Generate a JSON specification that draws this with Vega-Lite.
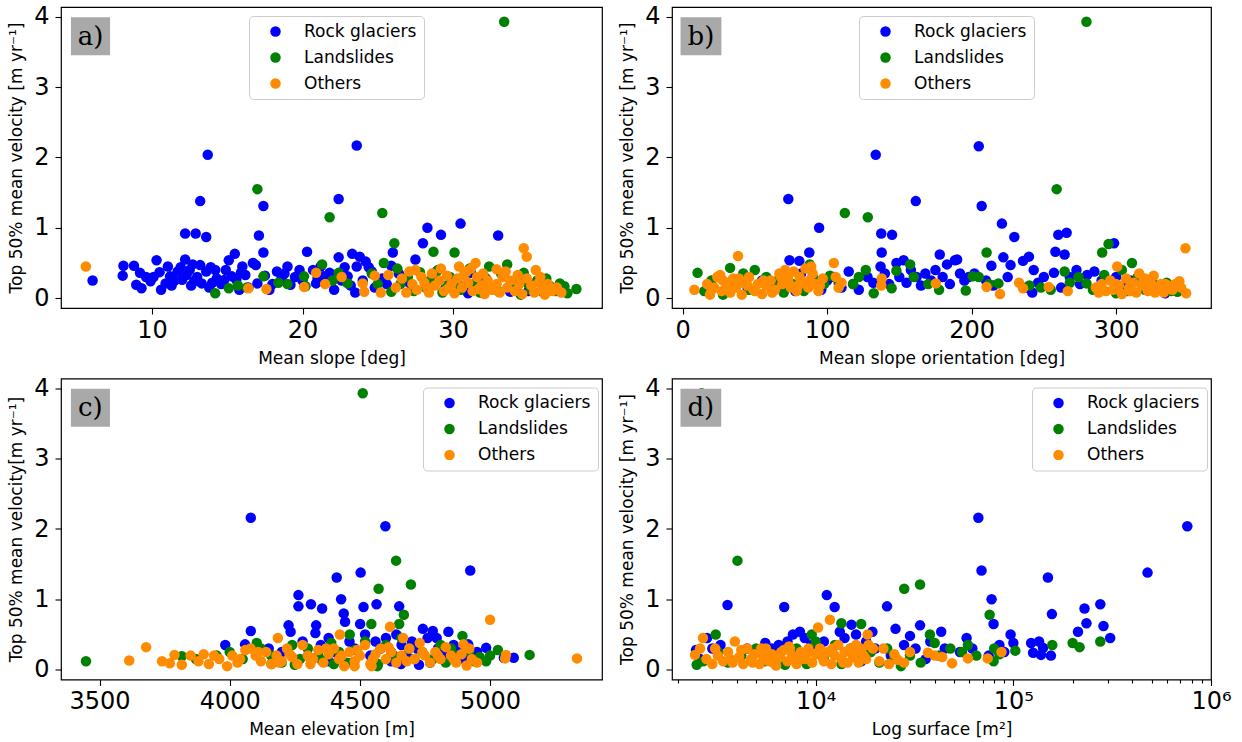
{
"$schema": "https://vega.github.io/schema/vega-lite/v6.json",
"padding": {"left": 7, "top": 4, "right": 5, "bottom": 5},
"background": "white",
"spacing": 8.5,
"resolve": {"legend": {"color": "independent"}},
"datasets": {
"a": [
{"t":"R","x":6.05,"v":0.25},{"t":"R","x":8.1,"v":0.46},{"t":"R","x":8.05,"v":0.32},{"t":"R","x":8.8,"v":0.46},{"t":"R","x":9.2,"v":0.36},{"t":"R","x":8.95,"v":0.19},{"t":"R","x":9.3,"v":0.14},{"t":"R","x":9.9,"v":0.24},{"t":"R","x":10.3,"v":0.54},{"t":"R","x":10.6,"v":0.12},{"t":"R","x":11.05,"v":0.45},{"t":"R","x":11.2,"v":0.31},{"t":"R","x":10.9,"v":0.21},{"t":"R","x":11.7,"v":0.38},{"t":"R","x":12,"v":0.26},{"t":"R","x":12.2,"v":0.92},{"t":"R","x":12.9,"v":0.92},{"t":"R","x":13.6,"v":0.87},{"t":"R","x":12.2,"v":0.55},{"t":"R","x":12.5,"v":0.4},{"t":"R","x":12.8,"v":0.24},{"t":"R","x":13.2,"v":1.38},{"t":"R","x":13.7,"v":2.04},{"t":"R","x":13.2,"v":0.47},{"t":"R","x":13.3,"v":0.21},{"t":"R","x":13.6,"v":0.38},{"t":"R","x":14.2,"v":0.4},{"t":"R","x":14.3,"v":0.28},{"t":"R","x":15.1,"v":0.54},{"t":"R","x":15.5,"v":0.63},{"t":"R","x":15.3,"v":0.31},{"t":"R","x":15.8,"v":0.12},{"t":"R","x":15.9,"v":0.36},{"t":"R","x":16.7,"v":0.5},{"t":"R","x":17.1,"v":0.89},{"t":"R","x":17.4,"v":1.31},{"t":"R","x":17.4,"v":0.65},{"t":"R","x":17,"v":0.21},{"t":"R","x":17.8,"v":0.12},{"t":"R","x":18.6,"v":0.28},{"t":"R","x":19,"v":0.45},{"t":"R","x":19.2,"v":0.19},{"t":"R","x":20.3,"v":0.66},{"t":"R","x":20.7,"v":0.4},{"t":"R","x":20.9,"v":0.21},{"t":"R","x":21.4,"v":0.31},{"t":"R","x":22.1,"v":0.12},{"t":"R","x":22.4,"v":0.58},{"t":"R","x":22.4,"v":1.41},{"t":"R","x":23.6,"v":2.17},{"t":"R","x":23.3,"v":0.63},{"t":"R","x":23.8,"v":0.59},{"t":"R","x":24.2,"v":0.52},{"t":"R","x":23.6,"v":0.45},{"t":"R","x":23.5,"v":0.08},{"t":"R","x":23,"v":0.31},{"t":"R","x":24.6,"v":0.38},{"t":"R","x":25.9,"v":0.46},{"t":"R","x":26,"v":0.65},{"t":"R","x":26.8,"v":0.24},{"t":"R","x":27.5,"v":0.55},{"t":"R","x":28,"v":0.78},{"t":"R","x":28.3,"v":1.0},{"t":"R","x":29.2,"v":0.9},{"t":"R","x":30.5,"v":1.06},{"t":"R","x":31.2,"v":0.36},{"t":"R","x":31,"v":0.07},{"t":"R","x":33,"v":0.89},{"t":"R","x":33.8,"v":0.09},
{"t":"R","x":11.5,"v":0.25},{"t":"R","x":12.3,"v":0.33},{"t":"R","x":11.9,"v":0.44},{"t":"R","x":13,"v":0.3},{"t":"R","x":14,"v":0.22},{"t":"R","x":14.6,"v":0.2},{"t":"R","x":15.6,"v":0.26},{"t":"R","x":16.2,"v":0.33},{"t":"R","x":16.4,"v":0.15},{"t":"R","x":17.5,"v":0.32},{"t":"R","x":18,"v":0.2},{"t":"R","x":18.3,"v":0.38},{"t":"R","x":19.5,"v":0.3},{"t":"R","x":21,"v":0.28},{"t":"R","x":21.8,"v":0.36},{"t":"R","x":22.6,"v":0.25},{"t":"R","x":24,"v":0.25},{"t":"R","x":24.8,"v":0.15},{"t":"R","x":25.3,"v":0.28},{"t":"R","x":26.4,"v":0.35},{"t":"R","x":27.2,"v":0.2},{"t":"R","x":28.8,"v":0.3},{"t":"R","x":29.5,"v":0.14},{"t":"R","x":30.2,"v":0.25},{"t":"R","x":32,"v":0.2},{"t":"R","x":34.2,"v":0.15},{"t":"R","x":35,"v":0.1},{"t":"R","x":9.6,"v":0.3},{"t":"R","x":10.5,"v":0.37},{"t":"R","x":12.7,"v":0.48},{"t":"R","x":13.9,"v":0.44},{"t":"R","x":14.8,"v":0.26},{"t":"R","x":16.9,"v":0.47},{"t":"R","x":20,"v":0.25},{"t":"R","x":22.8,"v":0.44},{"t":"R","x":24.4,"v":0.44},
{"t":"R","x":12.6,"v":0.18},{"t":"R","x":13.8,"v":0.15},{"t":"R","x":14.9,"v":0.4},{"t":"R","x":16,"v":0.45},{"t":"R","x":18.8,"v":0.35},{"t":"R","x":19.8,"v":0.4},{"t":"R","x":21.2,"v":0.45},{"t":"R","x":23.2,"v":0.18},{"t":"R","x":25.6,"v":0.2},{"t":"R","x":11.3,"v":0.18},{"t":"R","x":10.1,"v":0.3},
{"t":"L","x":14.2,"v":0.07},{"t":"L","x":15.1,"v":0.14},{"t":"L","x":15.7,"v":0.18},{"t":"L","x":17,"v":1.55},{"t":"L","x":17.4,"v":0.31},{"t":"L","x":19,"v":0.2},{"t":"L","x":20.1,"v":0.31},{"t":"L","x":20.2,"v":0.17},{"t":"L","x":21.3,"v":0.48},{"t":"L","x":21.8,"v":1.15},{"t":"L","x":22.4,"v":0.36},{"t":"L","x":23,"v":0.21},{"t":"L","x":25.3,"v":1.21},{"t":"L","x":26.1,"v":0.78},{"t":"L","x":25.4,"v":0.5},{"t":"L","x":25.9,"v":0.09},{"t":"L","x":28.7,"v":0.66},{"t":"L","x":30.1,"v":0.65},{"t":"L","x":33.4,"v":3.93},{"t":"L","x":33.6,"v":0.48},{"t":"L","x":32.4,"v":0.45},{"t":"L","x":34.7,"v":0.36},{"t":"L","x":37.1,"v":0.21},{"t":"L","x":38.2,"v":0.13},{"t":"L","x":37.6,"v":0.07},{"t":"L","x":34.5,"v":0.05},
{"t":"L","x":26.5,"v":0.2},{"t":"L","x":27,"v":0.3},{"t":"L","x":27.4,"v":0.1},{"t":"L","x":27.8,"v":0.37},{"t":"L","x":28.2,"v":0.15},{"t":"L","x":28.5,"v":0.25},{"t":"L","x":29,"v":0.4},{"t":"L","x":29.3,"v":0.08},{"t":"L","x":29.8,"v":0.3},{"t":"L","x":30.5,"v":0.12},{"t":"L","x":30.8,"v":0.35},{"t":"L","x":31.4,"v":0.2},{"t":"L","x":31.8,"v":0.08},{"t":"L","x":32.2,"v":0.28},{"t":"L","x":32.8,"v":0.15},{"t":"L","x":33.2,"v":0.35},{"t":"L","x":33.9,"v":0.22},{"t":"L","x":34.3,"v":0.3},{"t":"L","x":35.2,"v":0.12},{"t":"L","x":35.6,"v":0.25},{"t":"L","x":36,"v":0.08},{"t":"L","x":36.4,"v":0.18},{"t":"L","x":36.8,"v":0.1},{"t":"L","x":37.4,"v":0.17},{"t":"L","x":24.6,"v":0.35},{"t":"L","x":25,"v":0.2},{"t":"L","x":26.3,"v":0.42},{"t":"L","x":28.9,"v":0.38},{"t":"L","x":31.1,"v":0.42},{"t":"L","x":16.3,"v":0.15},{"t":"L","x":18.4,"v":0.22},{"t":"L","x":22,"v":0.25},
{"t":"L","x":29.6,"v":0.18},{"t":"L","x":30.3,"v":0.22},{"t":"L","x":33,"v":0.1},{"t":"L","x":35,"v":0.2},{"t":"L","x":36.2,"v":0.28},
{"t":"O","x":5.6,"v":0.45},{"t":"O","x":16.4,"v":0.14},{"t":"O","x":17.6,"v":0.13},{"t":"O","x":20.1,"v":0.16},{"t":"O","x":20.9,"v":0.36},{"t":"O","x":21.5,"v":0.2},{"t":"O","x":22.6,"v":0.3},{"t":"O","x":24,"v":0.21},{"t":"O","x":24.1,"v":0.09},{"t":"O","x":24.8,"v":0.32},{"t":"O","x":25.2,"v":0.08},{"t":"O","x":25.7,"v":0.33},{"t":"O","x":34.7,"v":0.71},{"t":"O","x":34.9,"v":0.59},{"t":"O","x":31.5,"v":0.5},{"t":"O","x":32.9,"v":0.41},{"t":"O","x":35.5,"v":0.4},{"t":"O","x":30.4,"v":0.45},
{"t":"O","x":26.2,"v":0.15},{"t":"O","x":26.6,"v":0.28},{"t":"O","x":26.9,"v":0.08},{"t":"O","x":27.1,"v":0.38},{"t":"O","x":27.3,"v":0.2},{"t":"O","x":27.6,"v":0.12},{"t":"O","x":27.9,"v":0.3},{"t":"O","x":28.1,"v":0.22},{"t":"O","x":28.4,"v":0.08},{"t":"O","x":28.6,"v":0.35},{"t":"O","x":28.8,"v":0.18},{"t":"O","x":29.1,"v":0.25},{"t":"O","x":29.4,"v":0.1},{"t":"O","x":29.6,"v":0.32},{"t":"O","x":29.9,"v":0.2},{"t":"O","x":30.1,"v":0.07},{"t":"O","x":30.3,"v":0.28},{"t":"O","x":30.6,"v":0.15},{"t":"O","x":30.9,"v":0.38},{"t":"O","x":31,"v":0.22},{"t":"O","x":31.3,"v":0.1},{"t":"O","x":31.6,"v":0.3},{"t":"O","x":31.9,"v":0.18},{"t":"O","x":32.1,"v":0.06},{"t":"O","x":32.3,"v":0.25},{"t":"O","x":32.6,"v":0.12},{"t":"O","x":32.9,"v":0.2},{"t":"O","x":33.1,"v":0.08},{"t":"O","x":33.3,"v":0.3},{"t":"O","x":33.6,"v":0.15},{"t":"O","x":33.8,"v":0.25},{"t":"O","x":34.1,"v":0.1},{"t":"O","x":34.4,"v":0.2},{"t":"O","x":34.6,"v":0.06},{"t":"O","x":34.9,"v":0.28},{"t":"O","x":35.2,"v":0.18},{"t":"O","x":35.4,"v":0.08},{"t":"O","x":35.7,"v":0.22},{"t":"O","x":35.9,"v":0.12},{"t":"O","x":36.1,"v":0.05},{"t":"O","x":36.3,"v":0.2},{"t":"O","x":36.6,"v":0.1},{"t":"O","x":36.9,"v":0.15},{"t":"O","x":37.2,"v":0.08},{"t":"O","x":27.5,"v":0.4},{"t":"O","x":29.2,"v":0.42},{"t":"O","x":31.2,"v":0.42},{"t":"O","x":32,"v":0.35},{"t":"O","x":33.5,"v":0.38},
{"t":"O","x":28.3,"v":0.14},{"t":"O","x":30.7,"v":0.32},{"t":"O","x":32.5,"v":0.16},{"t":"O","x":34.3,"v":0.33},{"t":"O","x":35.8,"v":0.3},{"t":"O","x":36.4,"v":0.14},{"t":"O","x":29.7,"v":0.14},{"t":"O","x":31.7,"v":0.13}
],
"b": [
{"t":"R","x":73.2,"v":1.41},{"t":"R","x":94.5,"v":1.0},{"t":"R","x":87.7,"v":0.65},{"t":"R","x":74,"v":0.54},{"t":"R","x":80.8,"v":0.53},{"t":"R","x":133.7,"v":2.04},{"t":"R","x":137.8,"v":0.65},{"t":"R","x":137.5,"v":0.92},{"t":"R","x":145,"v":0.9},{"t":"R","x":137,"v":0.45},{"t":"R","x":148,"v":0.5},{"t":"R","x":153,"v":0.54},{"t":"R","x":161.4,"v":1.38},{"t":"R","x":178,"v":0.62},{"t":"R","x":188.5,"v":0.54},{"t":"R","x":190,"v":0.55},{"t":"R","x":205,"v":2.16},{"t":"R","x":207,"v":1.31},{"t":"R","x":221,"v":1.06},{"t":"R","x":229.6,"v":0.87},{"t":"R","x":222,"v":0.58},{"t":"R","x":213.7,"v":0.46},{"t":"R","x":227,"v":0.47},{"t":"R","x":235.6,"v":0.53},{"t":"R","x":239.7,"v":0.59},{"t":"R","x":243,"v":0.4},{"t":"R","x":258,"v":0.66},{"t":"R","x":260,"v":0.9},{"t":"R","x":265.8,"v":0.93},{"t":"R","x":264.4,"v":0.62},{"t":"R","x":257,"v":0.36},{"t":"R","x":272.6,"v":0.4},{"t":"R","x":285,"v":0.38},{"t":"R","x":298.6,"v":0.78},{"t":"R","x":334,"v":0.07},
{"t":"R","x":60,"v":0.2},{"t":"R","x":65,"v":0.15},{"t":"R","x":70,"v":0.3},{"t":"R","x":78,"v":0.1},{"t":"R","x":82,"v":0.35},{"t":"R","x":86,"v":0.2},{"t":"R","x":90,"v":0.3},{"t":"R","x":96,"v":0.12},{"t":"R","x":100,"v":0.25},{"t":"R","x":105,"v":0.3},{"t":"R","x":110,"v":0.15},{"t":"R","x":115,"v":0.38},{"t":"R","x":118,"v":0.2},{"t":"R","x":122,"v":0.12},{"t":"R","x":128,"v":0.3},{"t":"R","x":132,"v":0.22},{"t":"R","x":140,"v":0.35},{"t":"R","x":143,"v":0.2},{"t":"R","x":150,"v":0.3},{"t":"R","x":155,"v":0.22},{"t":"R","x":158,"v":0.4},{"t":"R","x":162,"v":0.3},{"t":"R","x":165,"v":0.18},{"t":"R","x":168,"v":0.35},{"t":"R","x":172,"v":0.25},{"t":"R","x":175,"v":0.4},{"t":"R","x":180,"v":0.3},{"t":"R","x":183,"v":0.48},{"t":"R","x":185,"v":0.2},{"t":"R","x":192,"v":0.35},{"t":"R","x":195,"v":0.25},{"t":"R","x":198,"v":0.3},{"t":"R","x":202,"v":0.35},{"t":"R","x":210,"v":0.25},{"t":"R","x":215,"v":0.18},{"t":"R","x":225,"v":0.3},{"t":"R","x":238,"v":0.15},{"t":"R","x":242,"v":0.08},{"t":"R","x":246,"v":0.22},{"t":"R","x":250,"v":0.3},{"t":"R","x":262,"v":0.15},{"t":"R","x":268,"v":0.3},{"t":"R","x":275,"v":0.2},{"t":"R","x":280,"v":0.33},{"t":"R","x":290,"v":0.25},{"t":"R","x":300,"v":0.3},{"t":"R","x":305,"v":0.15},{"t":"R","x":310,"v":0.25},{"t":"R","x":320,"v":0.2},{"t":"R","x":328,"v":0.12},{"t":"R","x":340,"v":0.15},{"t":"R","x":45,"v":0.15},{"t":"R","x":55,"v":0.25},
{"t":"L","x":10.4,"v":0.36},{"t":"L","x":32.9,"v":0.43},{"t":"L","x":112.3,"v":1.21},{"t":"L","x":128.2,"v":1.15},{"t":"L","x":126.8,"v":0.4},{"t":"L","x":157.5,"v":0.48},{"t":"L","x":148,"v":0.39},{"t":"L","x":144.7,"v":0.14},{"t":"L","x":132.3,"v":0.07},{"t":"L","x":177.5,"v":0.12},{"t":"L","x":196,"v":0.11},{"t":"L","x":200.8,"v":0.31},{"t":"L","x":210.4,"v":0.65},{"t":"L","x":218.6,"v":0.21},{"t":"L","x":258.9,"v":1.55},{"t":"L","x":279.5,"v":3.93},{"t":"L","x":290.4,"v":0.65},{"t":"L","x":294.8,"v":0.77},{"t":"L","x":311,"v":0.5},{"t":"L","x":264.4,"v":0.38},{"t":"L","x":279.5,"v":0.21},{"t":"L","x":291.8,"v":0.33},{"t":"L","x":254.8,"v":0.12},{"t":"L","x":342.5,"v":0.09},
{"t":"L","x":15,"v":0.1},{"t":"L","x":20,"v":0.25},{"t":"L","x":25,"v":0.3},{"t":"L","x":28,"v":0.05},{"t":"L","x":38,"v":0.2},{"t":"L","x":42,"v":0.35},{"t":"L","x":46,"v":0.12},{"t":"L","x":50,"v":0.4},{"t":"L","x":54,"v":0.22},{"t":"L","x":58,"v":0.3},{"t":"L","x":62,"v":0.1},{"t":"L","x":66,"v":0.25},{"t":"L","x":70,"v":0.08},{"t":"L","x":76,"v":0.2},{"t":"L","x":84,"v":0.1},{"t":"L","x":88,"v":0.48},{"t":"L","x":92,"v":0.25},{"t":"L","x":98,"v":0.2},{"t":"L","x":102,"v":0.32},{"t":"L","x":108,"v":0.22},{"t":"L","x":118,"v":0.2},{"t":"L","x":122,"v":0.3},{"t":"L","x":160,"v":0.3},{"t":"L","x":170,"v":0.2},{"t":"L","x":205,"v":0.3},{"t":"L","x":212,"v":0.2},{"t":"L","x":240,"v":0.18},{"t":"L","x":248,"v":0.15},{"t":"L","x":268,"v":0.22},{"t":"L","x":274,"v":0.3},{"t":"L","x":284,"v":0.12},{"t":"L","x":300,"v":0.07},{"t":"L","x":304,"v":0.4},{"t":"L","x":308,"v":0.1},{"t":"L","x":315,"v":0.3},{"t":"L","x":320,"v":0.12},{"t":"L","x":325,"v":0.25},{"t":"L","x":330,"v":0.15},{"t":"L","x":335,"v":0.22},{"t":"L","x":338,"v":0.1},
{"t":"O","x":38.4,"v":0.6},{"t":"O","x":8.2,"v":0.12},{"t":"O","x":104.7,"v":0.5},{"t":"O","x":89,"v":0.45},{"t":"O","x":137.8,"v":0.28},{"t":"O","x":137.5,"v":0.18},{"t":"O","x":175.3,"v":0.21},{"t":"O","x":210.4,"v":0.16},{"t":"O","x":219.7,"v":0.06},{"t":"O","x":232.9,"v":0.22},{"t":"O","x":235.6,"v":0.14},{"t":"O","x":253.4,"v":0.16},{"t":"O","x":266.6,"v":0.1},{"t":"O","x":300.8,"v":0.45},{"t":"O","x":348,"v":0.71},{"t":"O","x":348.5,"v":0.07},{"t":"O","x":343.8,"v":0.24},
{"t":"O","x":17,"v":0.2},{"t":"O","x":19,"v":0.05},{"t":"O","x":22,"v":0.15},{"t":"O","x":24,"v":0.3},{"t":"O","x":27,"v":0.1},{"t":"O","x":30,"v":0.22},{"t":"O","x":33,"v":0.08},{"t":"O","x":35,"v":0.28},{"t":"O","x":37,"v":0.15},{"t":"O","x":41,"v":0.05},{"t":"O","x":43,"v":0.22},{"t":"O","x":46,"v":0.3},{"t":"O","x":49,"v":0.12},{"t":"O","x":52,"v":0.2},{"t":"O","x":55,"v":0.06},{"t":"O","x":58,"v":0.18},{"t":"O","x":61,"v":0.25},{"t":"O","x":64,"v":0.12},{"t":"O","x":67,"v":0.35},{"t":"O","x":69,"v":0.2},{"t":"O","x":71,"v":0.4},{"t":"O","x":73,"v":0.28},{"t":"O","x":75,"v":0.15},{"t":"O","x":77,"v":0.38},{"t":"O","x":79,"v":0.1},{"t":"O","x":81,"v":0.3},{"t":"O","x":83,"v":0.22},{"t":"O","x":85,"v":0.42},{"t":"O","x":87,"v":0.15},{"t":"O","x":90,"v":0.35},{"t":"O","x":92,"v":0.2},{"t":"O","x":94,"v":0.1},{"t":"O","x":97,"v":0.28},{"t":"O","x":106,"v":0.3},{"t":"O","x":108,"v":0.15},{"t":"O","x":110,"v":0.22},{"t":"O","x":26,"v":0.33},
{"t":"O","x":286,"v":0.15},{"t":"O","x":288,"v":0.08},{"t":"O","x":290,"v":0.2},{"t":"O","x":293,"v":0.1},{"t":"O","x":296,"v":0.25},{"t":"O","x":298,"v":0.12},{"t":"O","x":302,"v":0.18},{"t":"O","x":304,"v":0.06},{"t":"O","x":307,"v":0.28},{"t":"O","x":309,"v":0.15},{"t":"O","x":312,"v":0.22},{"t":"O","x":314,"v":0.08},{"t":"O","x":316,"v":0.35},{"t":"O","x":318,"v":0.18},{"t":"O","x":320,"v":0.28},{"t":"O","x":322,"v":0.1},{"t":"O","x":324,"v":0.22},{"t":"O","x":326,"v":0.32},{"t":"O","x":328,"v":0.15},{"t":"O","x":331,"v":0.2},{"t":"O","x":333,"v":0.08},{"t":"O","x":336,"v":0.18},{"t":"O","x":339,"v":0.12},{"t":"O","x":341,"v":0.2},{"t":"O","x":345,"v":0.15},
{"t":"O","x":20,"v":0.12},{"t":"O","x":28,"v":0.25},{"t":"O","x":32,"v":0.18},{"t":"O","x":39,"v":0.28},{"t":"O","x":45,"v":0.18},{"t":"O","x":50,"v":0.1},{"t":"O","x":56,"v":0.25},{"t":"O","x":62,"v":0.08},{"t":"O","x":68,"v":0.3},{"t":"O","x":74,"v":0.2},{"t":"O","x":80,"v":0.18},{"t":"O","x":88,"v":0.25},{"t":"O","x":95,"v":0.18},{"t":"O","x":300,"v":0.2},{"t":"O","x":310,"v":0.1},{"t":"O","x":319,"v":0.25},{"t":"O","x":327,"v":0.08},{"t":"O","x":334,"v":0.2}
],
"c": [
{"t":"R","x":4081,"v":2.16},{"t":"R","x":4598,"v":2.04},{"t":"R","x":4924,"v":1.41},{"t":"R","x":4503,"v":1.38},{"t":"R","x":4411,"v":1.31},{"t":"R","x":4264,"v":1.06},{"t":"R","x":4264,"v":0.9},{"t":"R","x":4312,"v":0.93},{"t":"R","x":4355,"v":0.87},{"t":"R","x":4428,"v":1.0},{"t":"R","x":4438,"v":0.8},{"t":"R","x":4443,"v":0.68},{"t":"R","x":4514,"v":0.89},{"t":"R","x":4564,"v":0.93},{"t":"R","x":4651,"v":0.9},{"t":"R","x":4501,"v":0.65},{"t":"R","x":4081,"v":0.55},{"t":"R","x":4226,"v":0.63},{"t":"R","x":4234,"v":0.54},{"t":"R","x":4332,"v":0.63},{"t":"R","x":4329,"v":0.52},{"t":"R","x":3983,"v":0.35},{"t":"R","x":4059,"v":0.36},{"t":"R","x":4742,"v":0.58},{"t":"R","x":4780,"v":0.55},{"t":"R","x":4795,"v":0.45},{"t":"R","x":4840,"v":0.54},{"t":"R","x":4916,"v":0.36},{"t":"R","x":4985,"v":0.31},{"t":"R","x":5053,"v":0.17},{"t":"R","x":5091,"v":0.17},{"t":"R","x":4727,"v":0.07},{"t":"R","x":4658,"v":0.08},
{"t":"R","x":4150,"v":0.3},{"t":"R","x":4200,"v":0.25},{"t":"R","x":4280,"v":0.4},{"t":"R","x":4300,"v":0.2},{"t":"R","x":4350,"v":0.35},{"t":"R","x":4380,"v":0.45},{"t":"R","x":4400,"v":0.25},{"t":"R","x":4420,"v":0.15},{"t":"R","x":4460,"v":0.4},{"t":"R","x":4480,"v":0.3},{"t":"R","x":4520,"v":0.5},{"t":"R","x":4540,"v":0.2},{"t":"R","x":4560,"v":0.4},{"t":"R","x":4580,"v":0.3},{"t":"R","x":4600,"v":0.45},{"t":"R","x":4620,"v":0.25},{"t":"R","x":4640,"v":0.5},{"t":"R","x":4660,"v":0.35},{"t":"R","x":4680,"v":0.2},{"t":"R","x":4700,"v":0.4},{"t":"R","x":4720,"v":0.3},{"t":"R","x":4760,"v":0.45},{"t":"R","x":4800,"v":0.3},{"t":"R","x":4820,"v":0.2},{"t":"R","x":4860,"v":0.35},{"t":"R","x":4880,"v":0.25},{"t":"R","x":4900,"v":0.15},{"t":"R","x":4950,"v":0.25},{"t":"R","x":4470,"v":0.1},{"t":"R","x":4380,"v":0.12},{"t":"R","x":4620,"v":0.12},{"t":"R","x":4770,"v":0.1},
{"t":"L","x":3448,"v":0.12},{"t":"L","x":4511,"v":3.93},{"t":"L","x":4639,"v":1.55},{"t":"L","x":4696,"v":1.21},{"t":"L","x":4572,"v":1.15},{"t":"L","x":4544,"v":0.65},{"t":"L","x":4669,"v":0.78},{"t":"L","x":4651,"v":0.65},{"t":"L","x":4461,"v":0.5},{"t":"L","x":4894,"v":0.48},{"t":"L","x":5152,"v":0.21},{"t":"L","x":5030,"v":0.28},{"t":"L","x":4985,"v":0.12},{"t":"L","x":3816,"v":0.19},{"t":"L","x":4104,"v":0.38},{"t":"L","x":4355,"v":0.13},{"t":"L","x":4567,"v":0.05},
{"t":"L","x":3870,"v":0.15},{"t":"L","x":3950,"v":0.2},{"t":"L","x":4000,"v":0.25},{"t":"L","x":4050,"v":0.15},{"t":"L","x":4120,"v":0.3},{"t":"L","x":4160,"v":0.2},{"t":"L","x":4200,"v":0.1},{"t":"L","x":4240,"v":0.35},{"t":"L","x":4270,"v":0.15},{"t":"L","x":4300,"v":0.3},{"t":"L","x":4340,"v":0.2},{"t":"L","x":4390,"v":0.38},{"t":"L","x":4420,"v":0.25},{"t":"L","x":4450,"v":0.1},{"t":"L","x":4480,"v":0.28},{"t":"L","x":4520,"v":0.4},{"t":"L","x":4550,"v":0.15},{"t":"L","x":4600,"v":0.35},{"t":"L","x":4630,"v":0.2},{"t":"L","x":4660,"v":0.45},{"t":"L","x":4690,"v":0.3},{"t":"L","x":4710,"v":0.15},{"t":"L","x":4740,"v":0.25},{"t":"L","x":4780,"v":0.15},{"t":"L","x":4810,"v":0.35},{"t":"L","x":4830,"v":0.1},{"t":"L","x":4850,"v":0.3},{"t":"L","x":4870,"v":0.2},{"t":"L","x":4920,"v":0.25},{"t":"L","x":4940,"v":0.12},{"t":"L","x":5000,"v":0.2},{"t":"L","x":4960,"v":0.18},{"t":"L","x":4160,"v":0.08},{"t":"L","x":4250,"v":0.07},{"t":"L","x":4570,"v":0.08},{"t":"L","x":4400,"v":0.08},
{"t":"O","x":3614,"v":0.13},{"t":"O","x":3679,"v":0.32},{"t":"O","x":5334,"v":0.16},{"t":"O","x":5000,"v":0.71},{"t":"O","x":4616,"v":0.61},{"t":"O","x":4423,"v":0.5},{"t":"O","x":4185,"v":0.45},{"t":"O","x":4666,"v":0.45},{"t":"O","x":4898,"v":0.36},{"t":"O","x":5061,"v":0.21},{"t":"O","x":5058,"v":0.16},{"t":"O","x":3740,"v":0.12},{"t":"O","x":3770,"v":0.09},{"t":"O","x":3816,"v":0.07},{"t":"O","x":3788,"v":0.21},
{"t":"O","x":3850,"v":0.2},{"t":"O","x":3880,"v":0.12},{"t":"O","x":3900,"v":0.22},{"t":"O","x":3920,"v":0.08},{"t":"O","x":3940,"v":0.2},{"t":"O","x":3960,"v":0.15},{"t":"O","x":3990,"v":0.05},{"t":"O","x":4010,"v":0.2},{"t":"O","x":4040,"v":0.15},{"t":"O","x":4060,"v":0.28},{"t":"O","x":4080,"v":0.3},{"t":"O","x":4100,"v":0.2},{"t":"O","x":4120,"v":0.12},{"t":"O","x":4140,"v":0.25},{"t":"O","x":4160,"v":0.08},{"t":"O","x":4180,"v":0.2},{"t":"O","x":4200,"v":0.12},{"t":"O","x":4220,"v":0.3},{"t":"O","x":4240,"v":0.18},{"t":"O","x":4260,"v":0.08},{"t":"O","x":4280,"v":0.35},{"t":"O","x":4300,"v":0.2},{"t":"O","x":4320,"v":0.15},{"t":"O","x":4340,"v":0.28},{"t":"O","x":4360,"v":0.1},{"t":"O","x":4380,"v":0.22},{"t":"O","x":4400,"v":0.3},{"t":"O","x":4420,"v":0.15},{"t":"O","x":4440,"v":0.05},{"t":"O","x":4460,"v":0.25},{"t":"O","x":4480,"v":0.12},{"t":"O","x":4500,"v":0.2},{"t":"O","x":4520,"v":0.35},{"t":"O","x":4540,"v":0.08},{"t":"O","x":4560,"v":0.22},{"t":"O","x":4580,"v":0.3},{"t":"O","x":4600,"v":0.15},{"t":"O","x":4620,"v":0.25},{"t":"O","x":4640,"v":0.1},{"t":"O","x":4660,"v":0.2},{"t":"O","x":4690,"v":0.3},{"t":"O","x":4710,"v":0.15},{"t":"O","x":4730,"v":0.38},{"t":"O","x":4750,"v":0.2},{"t":"O","x":4770,"v":0.1},{"t":"O","x":4790,"v":0.25},{"t":"O","x":4810,"v":0.15},{"t":"O","x":4830,"v":0.32},{"t":"O","x":4850,"v":0.2},{"t":"O","x":4870,"v":0.1},{"t":"O","x":4890,"v":0.22},{"t":"O","x":4910,"v":0.06},{"t":"O","x":4930,"v":0.15},{"t":"O","x":4950,"v":0.1},{"t":"O","x":4480,"v":0.05},{"t":"O","x":4545,"v":0.05},
{"t":"O","x":4030,"v":0.1},{"t":"O","x":4110,"v":0.25},{"t":"O","x":4190,"v":0.1},{"t":"O","x":4230,"v":0.22},{"t":"O","x":4310,"v":0.08},{"t":"O","x":4370,"v":0.3},{"t":"O","x":4430,"v":0.2},{"t":"O","x":4490,"v":0.28},{"t":"O","x":4550,"v":0.15},{"t":"O","x":4610,"v":0.32},{"t":"O","x":4680,"v":0.12},{"t":"O","x":4740,"v":0.25},{"t":"O","x":4800,"v":0.2},{"t":"O","x":4860,"v":0.15},{"t":"O","x":4920,"v":0.3}
],
"d": [
{"t":"R","x":3580,"v":0.92},{"t":"R","x":6930,"v":0.89},{"t":"R","x":11380,"v":1.06},{"t":"R","x":12470,"v":0.89},{"t":"R","x":22960,"v":0.9},{"t":"R","x":25350,"v":0.58},{"t":"R","x":13240,"v":0.54},{"t":"R","x":15170,"v":0.64},{"t":"R","x":19360,"v":0.54},{"t":"R","x":33730,"v":0.63},{"t":"R","x":43150,"v":0.54},{"t":"R","x":66530,"v":2.16},{"t":"R","x":69020,"v":1.41},{"t":"R","x":77620,"v":1.0},{"t":"R","x":79430,"v":0.65},{"t":"R","x":96830,"v":0.5},{"t":"R","x":100000,"v":0.38},{"t":"R","x":149600,"v":1.31},{"t":"R","x":156700,"v":0.79},{"t":"R","x":123000,"v":0.38},{"t":"R","x":134900,"v":0.4},{"t":"R","x":141300,"v":0.31},{"t":"R","x":125900,"v":0.24},{"t":"R","x":138000,"v":0.21},{"t":"R","x":154900,"v":0.2},{"t":"R","x":212300,"v":0.54},{"t":"R","x":229100,"v":0.87},{"t":"R","x":234400,"v":0.66},{"t":"R","x":275400,"v":0.93},{"t":"R","x":285800,"v":0.62},{"t":"R","x":309000,"v":0.45},{"t":"R","x":477500,"v":1.38},{"t":"R","x":758600,"v":2.04},{"t":"R","x":53700,"v":0.25},{"t":"R","x":7670,"v":0.5},{"t":"R","x":8320,"v":0.54},{"t":"R","x":5560,"v":0.38},{"t":"R","x":2480,"v":0.28},{"t":"R","x":2820,"v":0.45},
{"t":"R","x":2600,"v":0.15},{"t":"R","x":3000,"v":0.3},{"t":"R","x":3300,"v":0.35},{"t":"R","x":4500,"v":0.3},{"t":"R","x":5000,"v":0.25},{"t":"R","x":6000,"v":0.3},{"t":"R","x":6500,"v":0.35},{"t":"R","x":7200,"v":0.4},{"t":"R","x":8800,"v":0.45},{"t":"R","x":9500,"v":0.35},{"t":"R","x":11000,"v":0.4},{"t":"R","x":14000,"v":0.45},{"t":"R","x":16000,"v":0.5},{"t":"R","x":18000,"v":0.4},{"t":"R","x":17000,"v":0.12},{"t":"R","x":20000,"v":0.3},{"t":"R","x":24000,"v":0.2},{"t":"R","x":28000,"v":0.35},{"t":"R","x":30000,"v":0.48},{"t":"R","x":32000,"v":0.3},{"t":"R","x":36000,"v":0.15},{"t":"R","x":38000,"v":0.4},{"t":"R","x":45000,"v":0.3},{"t":"R","x":58000,"v":0.45},{"t":"R","x":62000,"v":0.3},{"t":"R","x":85000,"v":0.35},{"t":"R","x":75000,"v":0.2},{"t":"R","x":90000,"v":0.25},
{"t":"L","x":2650,"v":3.93},{"t":"L","x":4020,"v":1.55},{"t":"L","x":3120,"v":0.5},{"t":"L","x":28050,"v":1.15},{"t":"L","x":33730,"v":1.21},{"t":"L","x":75860,"v":0.78},{"t":"L","x":13490,"v":0.66},{"t":"L","x":16980,"v":0.65},{"t":"L","x":9550,"v":0.5},{"t":"L","x":37840,"v":0.5},{"t":"L","x":102300,"v":0.27},{"t":"L","x":157400,"v":0.35},{"t":"L","x":199500,"v":0.38},{"t":"L","x":216300,"v":0.32},{"t":"L","x":275400,"v":0.4},{"t":"L","x":79430,"v":0.12},{"t":"L","x":58900,"v":0.35},
{"t":"L","x":2500,"v":0.07},{"t":"L","x":2700,"v":0.12},{"t":"L","x":3200,"v":0.25},{"t":"L","x":3600,"v":0.1},{"t":"L","x":4200,"v":0.2},{"t":"L","x":5000,"v":0.3},{"t":"L","x":5500,"v":0.12},{"t":"L","x":6200,"v":0.2},{"t":"L","x":7000,"v":0.07},{"t":"L","x":8000,"v":0.3},{"t":"L","x":9000,"v":0.08},{"t":"L","x":10000,"v":0.4},{"t":"L","x":11000,"v":0.15},{"t":"L","x":12500,"v":0.35},{"t":"L","x":13500,"v":0.08},{"t":"L","x":15000,"v":0.3},{"t":"L","x":16500,"v":0.15},{"t":"L","x":19000,"v":0.25},{"t":"L","x":21000,"v":0.1},{"t":"L","x":23000,"v":0.3},{"t":"L","x":25000,"v":0.15},{"t":"L","x":27000,"v":0.05},{"t":"L","x":30000,"v":0.2},{"t":"L","x":34000,"v":0.1},{"t":"L","x":40000,"v":0.38},{"t":"L","x":42000,"v":0.2},{"t":"L","x":48000,"v":0.3},{"t":"L","x":55000,"v":0.25},{"t":"L","x":65000,"v":0.2},{"t":"L","x":80000,"v":0.3},{"t":"L","x":85000,"v":0.22},
{"t":"O","x":11800,"v":0.71},{"t":"O","x":10280,"v":0.6},{"t":"O","x":18320,"v":0.5},{"t":"O","x":2690,"v":0.45},{"t":"O","x":2450,"v":0.21},{"t":"O","x":7330,"v":0.33},{"t":"O","x":48980,"v":0.09},{"t":"O","x":58900,"v":0.16},{"t":"O","x":74130,"v":0.16},{"t":"O","x":87100,"v":0.25},{"t":"O","x":36980,"v":0.24},{"t":"O","x":43650,"v":0.18},
{"t":"O","x":2800,"v":0.15},{"t":"O","x":3000,"v":0.08},{"t":"O","x":3200,"v":0.2},{"t":"O","x":3400,"v":0.12},{"t":"O","x":3600,"v":0.25},{"t":"O","x":3800,"v":0.1},{"t":"O","x":3900,"v":0.4},{"t":"O","x":4100,"v":0.18},{"t":"O","x":4300,"v":0.08},{"t":"O","x":4500,"v":0.3},{"t":"O","x":4700,"v":0.15},{"t":"O","x":4900,"v":0.22},{"t":"O","x":5200,"v":0.08},{"t":"O","x":5400,"v":0.2},{"t":"O","x":5600,"v":0.3},{"t":"O","x":5800,"v":0.12},{"t":"O","x":6000,"v":0.22},{"t":"O","x":6300,"v":0.06},{"t":"O","x":6600,"v":0.18},{"t":"O","x":6900,"v":0.28},{"t":"O","x":7200,"v":0.12},{"t":"O","x":7600,"v":0.2},{"t":"O","x":8000,"v":0.08},{"t":"O","x":8400,"v":0.25},{"t":"O","x":8800,"v":0.15},{"t":"O","x":9200,"v":0.3},{"t":"O","x":9600,"v":0.1},{"t":"O","x":10000,"v":0.22},{"t":"O","x":10500,"v":0.3},{"t":"O","x":11000,"v":0.12},{"t":"O","x":11500,"v":0.25},{"t":"O","x":12000,"v":0.08},{"t":"O","x":12500,"v":0.2},{"t":"O","x":13000,"v":0.35},{"t":"O","x":13500,"v":0.15},{"t":"O","x":14000,"v":0.25},{"t":"O","x":14500,"v":0.1},{"t":"O","x":15000,"v":0.3},{"t":"O","x":15500,"v":0.18},{"t":"O","x":16000,"v":0.35},{"t":"O","x":16500,"v":0.1},{"t":"O","x":17000,"v":0.25},{"t":"O","x":17500,"v":0.2},{"t":"O","x":18500,"v":0.35},{"t":"O","x":19500,"v":0.3},{"t":"O","x":21000,"v":0.12},{"t":"O","x":22000,"v":0.3},{"t":"O","x":23500,"v":0.08},{"t":"O","x":25000,"v":0.22},{"t":"O","x":26000,"v":0.14},{"t":"O","x":28000,"v":0.1},{"t":"O","x":30000,"v":0.25},{"t":"O","x":40000,"v":0.2},
{"t":"O","x":2600,"v":0.3},{"t":"O","x":3100,"v":0.3},{"t":"O","x":3700,"v":0.15},{"t":"O","x":4200,"v":0.28},{"t":"O","x":4800,"v":0.1},{"t":"O","x":5300,"v":0.3},{"t":"O","x":6100,"v":0.1},{"t":"O","x":6700,"v":0.25},{"t":"O","x":7400,"v":0.3},{"t":"O","x":8200,"v":0.15},{"t":"O","x":9000,"v":0.22},{"t":"O","x":10800,"v":0.18},{"t":"O","x":12200,"v":0.3},{"t":"O","x":13800,"v":0.1},{"t":"O","x":15300,"v":0.22},{"t":"O","x":16800,"v":0.3},{"t":"O","x":18000,"v":0.15}
]
},
"vconcat": [
{"hconcat": [
{"width": 541, "height": 301,
 "encoding": {
  "x": {"field": "x", "type": "quantitative", "scale": {"domain": [3.95, 39.9], "nice": false, "zero": false}, "axis": {"title": "Mean slope [deg]", "values": [10, 20, 30], "labelFontSize": 24, "titleFontSize": 17}},
  "y": {"field": "v", "type": "quantitative", "scale": {"domain": [-0.14, 4.14], "nice": false, "zero": false}, "axis": {"title": "Top 50% mean velocity [m yr⁻¹]", "values": [0, 1, 2, 3, 4], "labelFontSize": 24, "titleFontSize": 17}}
 },
 "layer": [
  {"data": {"name": "a"}, "mark": {"type": "circle", "size": 110, "opacity": 1},
   "encoding": {"color": {"field": "t", "type": "nominal", "scale": {"domain": ["R", "L", "O"], "range": ["#0000ff", "#008000", "#ff8c00"]}, "legend": {"legendX": 188, "legendY": 9, "labelExpr": "datum.label == 'R' ? 'Rock glaciers' : datum.label == 'L' ? 'Landslides' : 'Others'"}}}},
  {"data": {"values": [{"x": 4.61, "x2": 7.21, "v": 3.994, "v2": 3.454}]}, "mark": {"type": "rect", "color": "#a9a9a9"}, "encoding": {"x2": {"field": "x2"}, "y2": {"field": "v2"}}},
  {"data": {"values": [{"x": 5.91, "v": 3.72, "lab": "a)"}]}, "mark": {"type": "text", "font": "DejaVu Serif", "fontSize": 26, "color": "black", "align": "center", "baseline": "middle"}, "encoding": {"text": {"field": "lab"}}}
 ]},
{"width": 539, "height": 301,
 "encoding": {
  "x": {"field": "x", "type": "quantitative", "scale": {"domain": [-7.3, 365.7], "nice": false, "zero": false}, "axis": {"title": "Mean slope orientation [deg]", "values": [0, 100, 200, 300], "labelFontSize": 24, "titleFontSize": 17}},
  "y": {"field": "v", "type": "quantitative", "scale": {"domain": [-0.14, 4.14], "nice": false, "zero": false}, "axis": {"title": "Top 50% mean velocity [m yr⁻¹]", "values": [0, 1, 2, 3, 4], "labelFontSize": 24, "titleFontSize": 17}}
 },
 "layer": [
  {"data": {"name": "b"}, "mark": {"type": "circle", "size": 110, "opacity": 1},
   "encoding": {"color": {"field": "t", "type": "nominal", "scale": {"domain": ["R", "L", "O"], "range": ["#0000ff", "#008000", "#ff8c00"]}, "legend": {"legendX": 187, "legendY": 9, "labelExpr": "datum.label == 'R' ? 'Rock glaciers' : datum.label == 'L' ? 'Landslides' : 'Others'"}}}},
  {"data": {"values": [{"x": -1.4, "x2": 26.9, "v": 3.994, "v2": 3.454}]}, "mark": {"type": "rect", "color": "#a9a9a9"}, "encoding": {"x2": {"field": "x2"}, "y2": {"field": "v2"}}},
  {"data": {"values": [{"x": 12.75, "v": 3.72, "lab": "b)"}]}, "mark": {"type": "text", "font": "DejaVu Serif", "fontSize": 26, "color": "black", "align": "center", "baseline": "middle"}, "encoding": {"text": {"field": "lab"}}}
 ]}
], "spacing": 15, "resolve": {"legend": {"color": "independent"}}},
{"hconcat": [
{"width": 541, "height": 301,
 "encoding": {
  "x": {"field": "x", "type": "quantitative", "scale": {"domain": [3352, 5430], "nice": false, "zero": false}, "axis": {"title": "Mean elevation [m]", "values": [3500, 4000, 4500, 5000], "format": "d", "labelFontSize": 24, "titleFontSize": 17}},
  "y": {"field": "v", "type": "quantitative", "scale": {"domain": [-0.14, 4.14], "nice": false, "zero": false}, "axis": {"title": "Top 50% mean velocity[m yr⁻¹]", "values": [0, 1, 2, 3, 4], "labelFontSize": 24, "titleFontSize": 17}}
 },
 "layer": [
  {"data": {"name": "c"}, "mark": {"type": "circle", "size": 110, "opacity": 1},
   "encoding": {"color": {"field": "t", "type": "nominal", "scale": {"domain": ["R", "L", "O"], "range": ["#0000ff", "#008000", "#ff8c00"]}, "legend": {"legendX": 362, "legendY": 9, "labelExpr": "datum.label == 'R' ? 'Rock glaciers' : datum.label == 'L' ? 'Landslides' : 'Others'"}}}},
  {"data": {"values": [{"x": 3390, "x2": 3540, "v": 3.994, "v2": 3.454}]}, "mark": {"type": "rect", "color": "#a9a9a9"}, "encoding": {"x2": {"field": "x2"}, "y2": {"field": "v2"}}},
  {"data": {"values": [{"x": 3465, "v": 3.72, "lab": "c)"}]}, "mark": {"type": "text", "font": "DejaVu Serif", "fontSize": 26, "color": "black", "align": "center", "baseline": "middle"}, "encoding": {"text": {"field": "lab"}}}
 ]},
{"width": 539, "height": 301,
 "encoding": {
  "y": {"field": "v", "type": "quantitative", "scale": {"domain": [-0.14, 4.14], "nice": false, "zero": false}, "axis": {"title": "Top 50% mean velocity [m yr⁻¹]", "values": [0, 1, 2, 3, 4], "labelFontSize": 24, "titleFontSize": 17}}
 },
 "resolve": {"axis": {"x": "independent"}},
 "layer": [
  {"data": {"name": "d"}, "mark": {"type": "circle", "size": 110, "opacity": 1},
   "encoding": {
    "x": {"field": "x", "type": "quantitative", "scale": {"type": "log", "domain": [1875, 1000000], "nice": false, "zero": false}, "axis": {"orient": "bottom", "title": "Log surface [m²]", "values": [10000, 100000, 1000000], "labelFontSize": 24, "titleFontSize": 17, "labelFlush": false, "labelExpr": "datum.value == 10000 ? '10⁴' : datum.value == 100000 ? '10⁵' : '10⁶'"}},
    "color": {"field": "t", "type": "nominal", "scale": {"domain": ["R", "L", "O"], "range": ["#0000ff", "#008000", "#ff8c00"]}, "legend": {"legendX": 360, "legendY": 9, "labelExpr": "datum.label == 'R' ? 'Rock glaciers' : datum.label == 'L' ? 'Landslides' : 'Others'"}}}},
  {"data": {"values": [{"x": 2070, "x2": 3327, "v": 3.994, "v2": 3.454}]}, "mark": {"type": "rect", "color": "#a9a9a9"},
   "encoding": {
    "x": {"field": "x", "type": "quantitative", "axis": {"orient": "bottom", "title": null, "labels": false, "tickSize": 3.5, "values": [2000, 3000, 4000, 5000, 6000, 7000, 8000, 9000, 20000, 30000, 40000, 50000, 60000, 70000, 80000, 90000, 200000, 300000, 400000, 500000, 600000, 700000, 800000, 900000]}},
    "x2": {"field": "x2"}, "y2": {"field": "v2"}}},
  {"data": {"values": [{"x": 2624, "v": 3.72, "lab": "d)"}]}, "mark": {"type": "text", "font": "DejaVu Serif", "fontSize": 26, "color": "black", "align": "center", "baseline": "middle"},
   "encoding": {"x": {"field": "x", "type": "quantitative", "axis": null}, "text": {"field": "lab"}}}
 ]}
], "spacing": 15, "resolve": {"legend": {"color": "independent"}}}
],
"config": {
 "font": "DejaVu Sans",
 "view": {"stroke": "black", "strokeWidth": 1.2},
 "axis": {"grid": false, "domain": false, "tickColor": "black", "tickSize": 6, "tickWidth": 1.1, "labelColor": "black", "labelFont": "DejaVu Sans", "titleFont": "DejaVu Sans", "titleFontWeight": "normal", "titleColor": "black", "labelPadding": 4, "titlePadding": 5, "labelFlush": false},
 "axisX": {"titlePadding": 8},
 "axisY": {"labelPadding": 6, "titlePadding": 8},
 "legend": {"orient": "none", "title": null, "strokeColor": "#cccccc", "fillColor": "white", "cornerRadius": 4, "padding": 7, "symbolOffset": 11, "labelOffset": 20, "labelFontSize": 17, "labelColor": "black", "symbolSize": 110, "symbolType": "circle", "symbolStrokeWidth": 0, "rowPadding": 8}
}
}
